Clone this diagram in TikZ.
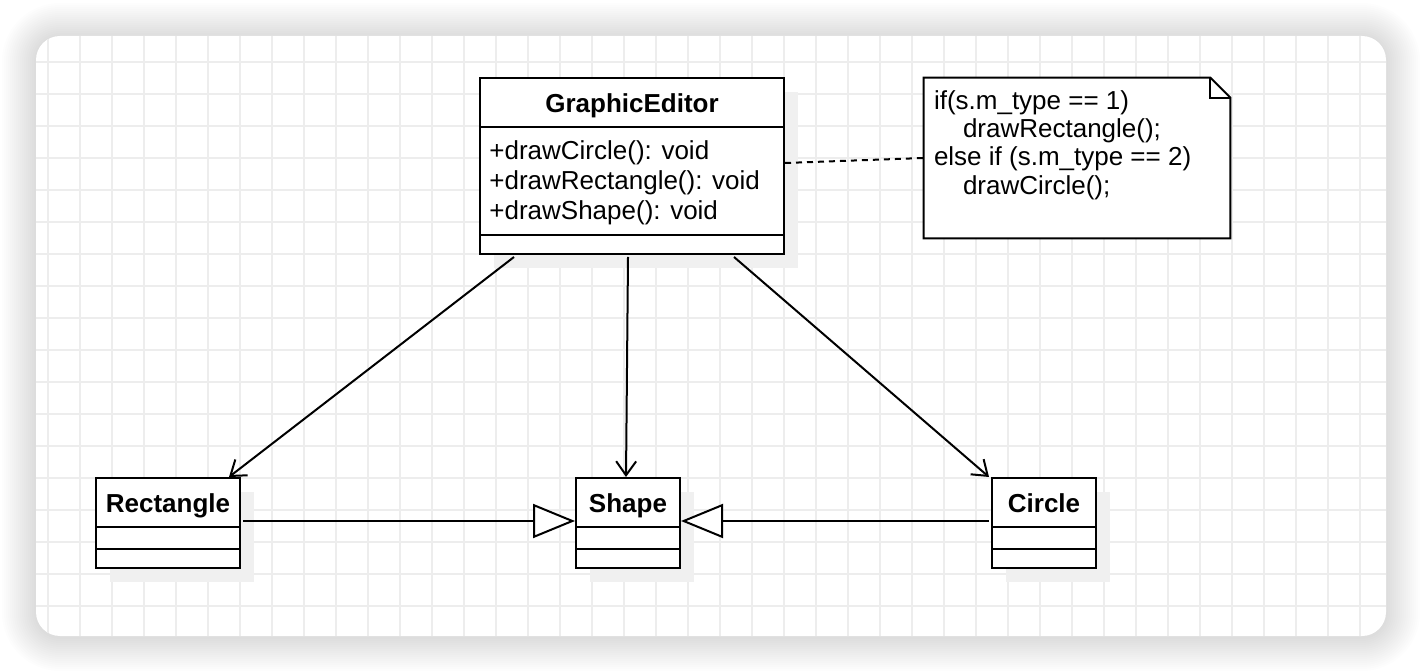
\documentclass[tikz,border=0pt]{standalone}
\usepackage{fontspec}
\setmainfont{Liberation Sans}
\usetikzlibrary{
  arrows.meta,
  shadows
}

\tikzset{
  gridline/.style={line width=1pt, black!7},
  classbox/.style={draw, line width=1pt, fill=white,
    drop shadow={shadow xshift=7pt, shadow yshift=-7pt, fill=black!6, opacity=1}},
  notebox/.style={draw=none, inner sep=0pt},
  sep/.style={line width=1pt},
  title/.style={font=\bfseries\fontsize{13}{15}\selectfont, inner sep=0pt, anchor=base},
  members/.style={font=\fontsize{13}{15}\selectfont, align=left, inner sep=0pt},
  notetext/.style={font=\fontsize{13}{14.2}\selectfont, align=left, inner sep=0pt},
  assoc/.style={line width=1pt, -{Straight Barb[length=7pt, width=10pt]}},
  inherit/.style={line width=1pt, -{Triangle[length=21pt, width=17pt, fill=white]}},
  notelink/.style={line width=1pt, dash pattern=on 3pt off 2.5pt}
}

\begin{document}
\begin{tikzpicture}[x=0.5pt, y=-0.5pt]
  \def\Ycls{523};
  \def\Xed{632};
  \useasboundingbox (0,0) rectangle (1422,672);

  % sheet with soft shadow and grid
  \foreach \i in {1,...,17}
    \fill[black, opacity=0.0095, rounded corners=12pt+\i pt]
      (36-2*\i,36-2*\i+1) rectangle (1386+2*\i,636+2*\i+1);
  \fill[white, rounded corners=12pt] (36,36) rectangle (1386,636);
  \begin{scope}
    \clip[rounded corners=12pt] (36,36) rectangle (1386,636);
    \foreach \gx in {48,80,...,1384} \draw[gridline] (\gx,36) -- (\gx,636);
    \foreach \gy in {62,94,...,636} \draw[gridline] (36,\gy) -- (1386,\gy);
  \end{scope}

  % GraphicEditor
  \node[classbox, minimum width=152pt, minimum height=88pt] (editor) at (\Xed,166) {};
  \node[title] (editortitle) at ([yshift=-17.8pt]editor.north) {GraphicEditor};
  \draw[sep] ([yshift=-25pt]editor.north west) -- ([yshift=-25pt]editor.north east);
  \draw[sep] ([yshift=10pt]editor.south west) -- ([yshift=10pt]editor.south east);
  \node[members, anchor=west] (editorops) at ([xshift=5pt, yshift=-8.5pt]editor.west)
    {+drawCircle(): void\\+drawRectangle(): void\\+drawShape(): void};

  % note
  \node[notebox, minimum width=153pt, minimum height=80pt] (note) at (1077,158) {};
  \draw[sep, fill=white] (note.north west) -- ([xshift=-10pt]note.north east)
    -- ([yshift=-10pt]note.north east) -- (note.south east) -- (note.south west) -- cycle;
  \draw[sep] ([xshift=-10pt]note.north east) -- ([xshift=-10pt, yshift=-10pt]note.north east)
    -- ([yshift=-10pt]note.north east);
  \node[notetext, anchor=west] (notebody) at ([xshift=5pt, yshift=6.5pt]note.west)
    {if(s.m\_type == 1)\\\hspace*{14.5pt}drawRectangle();\\else if (s.m\_type == 2)\\\hspace*{14.5pt}drawCircle();};
  \draw[notelink] ([yshift=1.5pt]editor.east) -- (note.west);

  % Rectangle
  \node[classbox, minimum width=72pt, minimum height=45pt] (rect) at (168,\Ycls) {};
  \node[title] at ([yshift=-17.8pt]rect.north) {Rectangle};
  \draw[sep] ([yshift=-25pt]rect.north west) -- ([yshift=-25pt]rect.north east);
  \draw[sep] ([yshift=10pt]rect.south west) -- ([yshift=10pt]rect.south east);

  % Shape
  \node[classbox, minimum width=52pt, minimum height=45pt] (shape) at (628,\Ycls) {};
  \node[title] at ([yshift=-17.8pt]shape.north) {Shape};
  \draw[sep] ([yshift=-25pt]shape.north west) -- ([yshift=-25pt]shape.north east);
  \draw[sep] ([yshift=10pt]shape.south west) -- ([yshift=10pt]shape.south east);

  % Circle
  \node[classbox, minimum width=52pt, minimum height=45pt] (circle) at (1044,\Ycls) {};
  \node[title] at ([yshift=-17.8pt]circle.north) {Circle};
  \draw[sep] ([yshift=-25pt]circle.north west) -- ([yshift=-25pt]circle.north east);
  \draw[sep] ([yshift=10pt]circle.south west) -- ([yshift=10pt]circle.south east);

  % associations
  \draw[assoc] ([xshift=-59pt, yshift=-1pt]editor.south) -- ([xshift=-6pt]rect.north east);
  \draw[assoc] ([xshift=-2pt, yshift=-1pt]editor.south) -- ([xshift=-1pt]shape.north);
  \draw[assoc] ([xshift=51pt, yshift=-1pt]editor.south) -- ([xshift=-1pt]circle.north west);

  % generalizations
  \draw[inherit] ([xshift=1pt, yshift=1pt]rect.east) -- ([yshift=1pt]shape.west);
  \draw[inherit] ([xshift=-1pt, yshift=1pt]circle.west) -- ([yshift=1pt]shape.east);
\end{tikzpicture}
\end{document}
